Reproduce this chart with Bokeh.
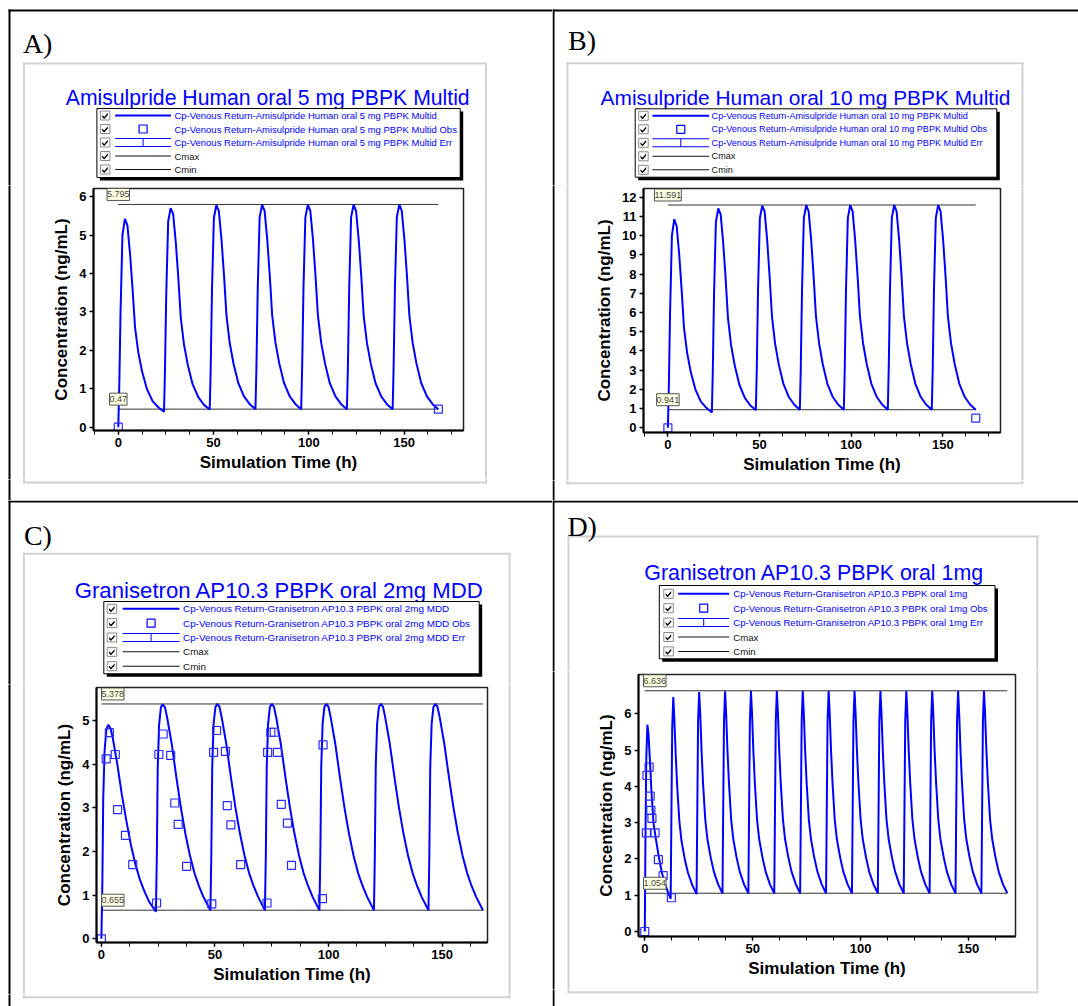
from bokeh.plotting import figure
from bokeh.layouts import row, column
from bokeh.models import Range1d, FixedTicker, Label
from bokeh.core.properties import value
from bokeh.embed import file_html
from bokeh.resources import INLINE

# ------------------------------------------------------------------ data
x_major_ticks = [0, 50, 100, 150]
x_minor_ticks = [-12.5, 0, 12.5, 25, 37.5, 50, 62.5, 75, 87.5, 100, 112.5, 125, 137.5, 150, 162.5, 175]
cmax_cmin_time = [0, 168]

amisulpride_time = [
    0, 0.5, 1.2, 2.2, 3.5, 4.8, 6.2, 7.5, 8.8, 10.5, 12.5, 15, 18, 21,
    24, 24.5, 25.2, 26.2, 27.5, 28.8, 30.2, 31.5, 32.8, 34.5, 36.5, 39, 42, 45,
    48, 48.5, 49.2, 50.2, 51.5, 52.8, 54.2, 55.5, 56.8, 58.5, 60.5, 63, 66, 69,
    72, 72.5, 73.2, 74.2, 75.5, 76.8, 78.2, 79.5, 80.8, 82.5, 84.5, 87, 90, 93,
    96, 96.5, 97.2, 98.2, 99.5, 100.8, 102.2, 103.5, 104.8, 106.5, 108.5, 111, 114, 117,
    120, 120.5, 121.2, 122.2, 123.5, 124.8, 126.2, 127.5, 128.8, 130.5, 132.5, 135, 138, 141,
    144, 144.5, 145.2, 146.2, 147.5, 148.8, 150.2, 151.5, 152.8, 154.5, 156.5, 159, 162, 165,
    168]
amisulpride_5mg_conc = [
    0, 1.0, 3.0, 5.0, 5.42, 5.25, 4.5, 3.6, 2.6, 1.95, 1.45, 1.0, 0.68, 0.52,
    0.40, 1.45, 3.5, 5.35, 5.70, 5.55, 4.8, 3.9, 2.85, 2.15, 1.62, 1.12, 0.78, 0.58,
    0.46, 1.5, 3.6, 5.45, 5.78, 5.62, 4.87, 3.95, 2.9, 2.19, 1.65, 1.15, 0.8, 0.6,
    0.47, 1.5, 3.6, 5.46, 5.79, 5.63, 4.88, 3.96, 2.9, 2.2, 1.66, 1.15, 0.8, 0.6,
    0.47, 1.5, 3.6, 5.46, 5.79, 5.63, 4.88, 3.96, 2.9, 2.2, 1.66, 1.15, 0.8, 0.6,
    0.47, 1.5, 3.6, 5.46, 5.79, 5.63, 4.88, 3.96, 2.9, 2.2, 1.66, 1.15, 0.8, 0.6,
    0.47, 1.5, 3.6, 5.46, 5.795, 5.63, 4.88, 3.96, 2.9, 2.2, 1.66, 1.15, 0.8, 0.6,
    0.47]
amisulpride_10mg_conc = [
    0, 2.0, 6.0, 10.0, 10.85, 10.5, 9.0, 7.2, 5.2, 3.9, 2.9, 2.0, 1.36, 1.04,
    0.80, 2.9, 7.0, 10.7, 11.42, 11.1, 9.6, 7.8, 5.7, 4.3, 3.24, 2.24, 1.56, 1.16,
    0.92, 3.0, 7.2, 10.9, 11.56, 11.25, 9.74, 7.9, 5.8, 4.38, 3.3, 2.3, 1.6, 1.2,
    0.94, 3.0, 7.2, 10.92, 11.58, 11.26, 9.76, 7.92, 5.8, 4.4, 3.32, 2.3, 1.6, 1.2,
    0.94, 3.0, 7.2, 10.92, 11.58, 11.26, 9.76, 7.92, 5.8, 4.4, 3.32, 2.3, 1.6, 1.2,
    0.94, 3.0, 7.2, 10.92, 11.59, 11.26, 9.76, 7.92, 5.8, 4.4, 3.32, 2.3, 1.6, 1.2,
    0.94, 3.0, 7.2, 10.92, 11.591, 11.26, 9.76, 7.92, 5.8, 4.4, 3.32, 2.3, 1.6, 1.2,
    0.94]
amisulpride_5mg_obs_time = [0, 168]
amisulpride_5mg_obs_conc = [0, 0.47]
amisulpride_10mg_obs_time = [0, 168]
amisulpride_10mg_obs_conc = [0, 0.5]
amisulpride_5mg_cmax, amisulpride_5mg_cmin = 5.795, 0.47
amisulpride_10mg_cmax, amisulpride_10mg_cmin = 11.591, 0.941

granisetron_2mg_time = [
    0, 0.4, 0.8, 1.4, 2.2, 3, 4, 5, 7, 9, 11, 13, 15, 17, 19, 21,
    24, 24.4, 24.8, 25.4, 26.2, 27, 28, 29, 31, 33, 35, 37, 39, 41, 43, 45,
    48, 48.4, 48.8, 49.4, 50.2, 51, 52, 53, 55, 57, 59, 61, 63, 65, 67, 69,
    72, 72.4, 72.8, 73.4, 74.2, 75, 76, 77, 79, 81, 83, 85, 87, 89, 91, 93,
    96, 96.4, 96.8, 97.4, 98.2, 99, 100, 101, 103, 105, 107, 109, 111, 113, 115, 117,
    120, 120.4, 120.8, 121.4, 122.2, 123, 124, 125, 127, 129, 131, 133, 135, 137, 139, 141,
    144, 144.4, 144.8, 145.4, 146.2, 147, 148, 149, 151, 153, 155, 157, 159, 161, 163, 165,
    168]
granisetron_2mg_conc = [
    0, 1.2, 3.2, 4.3, 4.8, 4.9, 4.82, 4.6, 4.0, 3.3, 2.7, 2.15, 1.7, 1.35, 1.08, 0.85,
    0.62, 1.9, 3.9, 4.9, 5.3, 5.37, 5.3, 5.05, 4.45, 3.7, 3.0, 2.4, 1.9, 1.5, 1.2, 0.95,
    0.65, 1.95, 3.95, 4.92, 5.31, 5.378, 5.31, 5.06, 4.46, 3.71, 3.01, 2.41, 1.91, 1.51, 1.21, 0.96,
    0.65, 1.95, 3.95, 4.92, 5.31, 5.378, 5.31, 5.06, 4.46, 3.71, 3.01, 2.41, 1.91, 1.51, 1.21, 0.96,
    0.65, 1.95, 3.95, 4.92, 5.31, 5.378, 5.31, 5.06, 4.46, 3.71, 3.01, 2.41, 1.91, 1.51, 1.21, 0.96,
    0.65, 1.95, 3.95, 4.92, 5.31, 5.378, 5.31, 5.06, 4.46, 3.71, 3.01, 2.41, 1.91, 1.51, 1.21, 0.96,
    0.65, 1.95, 3.95, 4.92, 5.31, 5.378, 5.31, 5.06, 4.46, 3.71, 3.01, 2.41, 1.91, 1.51, 1.21, 0.96,
    0.655]
granisetron_2mg_obs_time = [0, 2.1, 3.5, 6.1, 7.1, 10.6, 13.8,
                            24.3, 25.3, 27.2, 30.5, 32.3, 33.8, 37.5,
                            48.6, 49.4, 50.7, 54.6, 55.4, 57.0, 61.3,
                            72.9, 73.2, 74.6, 76.1, 77.5, 79.2, 81.9, 83.7,
                            97.3, 97.6]
granisetron_2mg_obs_conc = [0, 4.12, 4.72, 4.22, 2.96, 2.37, 1.70,
                            0.82, 4.22, 4.69, 4.20, 3.11, 2.62, 1.66,
                            0.80, 4.27, 4.77, 4.29, 3.05, 2.61, 1.70,
                            0.82, 4.27, 4.73, 4.73, 4.27, 3.08, 2.65, 1.68,
                            0.92, 4.44]
granisetron_2mg_cmax, granisetron_2mg_cmin = 5.378, 0.655

granisetron_1mg_time = [
    0, 0.3, 0.7, 1.2, 1.7, 2.3, 3, 4, 5, 6.5, 8, 10,
    12, 12.3, 12.7, 13.2, 13.7, 14.3, 15, 16, 17, 18.5, 20, 22,
    24, 24.3, 24.7, 25.2, 25.7, 26.3, 27, 28, 29, 30.5, 32, 34,
    36, 36.3, 36.7, 37.2, 37.7, 38.3, 39, 40, 41, 42.5, 44, 46,
    48, 48.3, 48.7, 49.2, 49.7, 50.3, 51, 52, 53, 54.5, 56, 58,
    60, 60.3, 60.7, 61.2, 61.7, 62.3, 63, 64, 65, 66.5, 68, 70,
    72, 72.3, 72.7, 73.2, 73.7, 74.3, 75, 76, 77, 78.5, 80, 82,
    84, 84.3, 84.7, 85.2, 85.7, 86.3, 87, 88, 89, 90.5, 92, 94,
    96, 96.3, 96.7, 97.2, 97.7, 98.3, 99, 100, 101, 102.5, 104, 106,
    108, 108.3, 108.7, 109.2, 109.7, 110.3, 111, 112, 113, 114.5, 116, 118,
    120, 120.3, 120.7, 121.2, 121.7, 122.3, 123, 124, 125, 126.5, 128, 130,
    132, 132.3, 132.7, 133.2, 133.7, 134.3, 135, 136, 137, 138.5, 140, 142,
    144, 144.3, 144.7, 145.2, 145.7, 146.3, 147, 148, 149, 150.5, 152, 154,
    156, 156.3, 156.7, 157.2, 157.7, 158.3, 159, 160, 161, 162.5, 164, 166,
    168]
granisetron_1mg_conc = [
    0, 2.5, 4.8, 5.7, 5.45, 4.8, 3.95, 3.0, 2.6, 2.05, 1.6, 1.2,
    0.9, 3.0, 5.6, 6.46, 5.85, 4.9, 4.02, 3.05, 2.5, 2.0, 1.62, 1.28,
    1.03, 3.1, 5.8, 6.6, 5.98, 4.98, 4.08, 3.1, 2.55, 2.05, 1.65, 1.3,
    1.05, 3.1, 5.8, 6.62, 6.0, 5.0, 4.1, 3.1, 2.55, 2.05, 1.65, 1.3,
    1.05, 3.1, 5.8, 6.63, 6.0, 5.0, 4.1, 3.1, 2.55, 2.05, 1.65, 1.3,
    1.05, 3.1, 5.8, 6.63, 6.0, 5.0, 4.1, 3.1, 2.55, 2.05, 1.65, 1.3,
    1.05, 3.1, 5.8, 6.63, 6.0, 5.0, 4.1, 3.1, 2.55, 2.05, 1.65, 1.3,
    1.05, 3.1, 5.8, 6.63, 6.0, 5.0, 4.1, 3.1, 2.55, 2.05, 1.65, 1.3,
    1.05, 3.1, 5.8, 6.63, 6.0, 5.0, 4.1, 3.1, 2.55, 2.05, 1.65, 1.3,
    1.05, 3.1, 5.8, 6.63, 6.0, 5.0, 4.1, 3.1, 2.55, 2.05, 1.65, 1.3,
    1.05, 3.1, 5.8, 6.63, 6.0, 5.0, 4.1, 3.1, 2.55, 2.05, 1.65, 1.3,
    1.05, 3.1, 5.8, 6.63, 6.0, 5.0, 4.1, 3.1, 2.55, 2.05, 1.65, 1.3,
    1.05, 3.1, 5.8, 6.63, 6.0, 5.0, 4.1, 3.1, 2.55, 2.05, 1.65, 1.3,
    1.05, 3.1, 5.8, 6.636, 6.0, 5.0, 4.1, 3.1, 2.55, 2.05, 1.65, 1.3,
    1.054]
granisetron_1mg_obs_time = [0, 0.75, 1.0, 2.0, 2.5, 2.8, 3.3, 4.75, 6.3, 8.5, 12.3]
granisetron_1mg_obs_conc = [0, 2.72, 4.30, 4.53, 3.73, 3.34, 3.12, 2.72, 1.98, 1.54, 0.93]
granisetron_1mg_cmax, granisetron_1mg_cmin = 6.636, 1.054

# ------------------------------------------------------------------ style / layout helpers
SANS = "Liberation Sans"
SERIF = "Liberation Serif"
BLUE = "#0000ff"
INK = "#111111"


def no_align(p):
    try:
        p.frame_align = False
    except Exception:
        pass
    return p


def deco_fig(x0, x1, y0, y1):
    """A blank strip of the cell; its ranges are the cell's pixel grid (y downward)."""
    p = figure(width=x1 - x0, height=y1 - y0, x_range=Range1d(x0, x1), y_range=Range1d(y1, y0),
               output_backend="svg", toolbar_location=None, title=None,
               x_axis_type=None, y_axis_type=None, min_border=0)
    p.outline_line_color = None
    p.background_fill_color = "white"
    p.border_fill_color = "white"
    return no_align(p)


def rect(p, l, t, r, b, fill=None, line=None, lw=1.0):
    kw = dict(left=[l], right=[r], top=[t], bottom=[b])
    kw.update(fill_color=fill, fill_alpha=1) if fill else kw.update(fill_alpha=0)
    kw.update(line_color=line, line_width=lw) if line else kw.update(line_alpha=0)
    p.quad(**kw)


def txt(p, x, y, s, size, color=INK, font=SANS, align="left", baseline="middle", style="normal"):
    p.text(x=[x], y=[y], text=[s], text_font=value(font), text_font_size=value(f"{size}px"),
           text_color=value(color), text_align=value(align), text_baseline=value(baseline),
           text_font_style=value(style))


def draw_frame_lines(p, cfg, y0, y1):
    """Cell rules and grey border, clipped by hand to this strip's rows y0..y1."""
    for (l, t, r, b) in cfg["rules"]:
        t2, b2 = max(t, y0 - 1), min(b, y1 + 1)
        if t2 < b2:
            rect(p, l, t2, r, b2, fill="black")
    gl, gt, gr, gb = cfg["gray"]
    for (l, t, r, b) in [(gl - 1, gt - 1, gr + 1, gt + 1), (gl - 1, gb - 1, gr + 1, gb + 1),
                         (gl - 1, gt - 1, gl + 1, gb + 1), (gr - 1, gt - 1, gr + 1, gb + 1)]:
        t2, b2 = max(t, y0 - 1), min(b, y1 + 1)
        if t2 < b2:
            rect(p, l, t2, r, b2, fill="#d2d2d2")


def draw_header(p, cfg):
    txt(p, cfg["letter_pos"][0], cfg["letter_pos"][1], cfg["letter"], 28, color="black",
        font=SERIF, baseline="alphabetic")
    txt(p, cfg["title_pos"][0], cfg["title_pos"][1], cfg["title"], cfg["title_fs"], color=BLUE,
        align="center", baseline="alphabetic")
    L = cfg["legend"]
    left, top, right, bottom = L["box"]
    rect(p, left + 3, top + 3, right + 3, bottom + 3, fill="black")
    rect(p, left, top, right, bottom, fill="white", line="black", lw=1)
    l0, l1 = L["line"]
    mid = (l0 + l1) / 2
    cb = L["cb"]
    for i, lab in enumerate(cfg["labels"]):
        yc = L["row0"] + i * L["dy"]
        rect(p, cb, yc - 4.5, cb + 9.5, yc + 4.5, fill="white", line="#8a8a8a", lw=1)
        p.patch([cb + 1.8, cb + 3.8, cb + 7.4, cb + 7.4, cb + 3.8, cb + 1.8],
                [yc - 0.6, yc + 1.4, yc - 2.7, yc - 0.5, yc + 3.4, yc + 1.4],
                fill_color="black", line_alpha=0)
        if i == 0:
            rect(p, l0, yc - 1, l1, yc + 1, fill=BLUE)
        elif i == 1:
            rect(p, mid - 4, yc - 4, mid + 4, yc + 4, line=BLUE, lw=1.2)
        elif i == 2:
            rect(p, l0, yc - 4.5, l1, yc - 3.5, fill=BLUE)
            rect(p, l0, yc + 3.5, l1, yc + 4.5, fill=BLUE)
            rect(p, mid - 0.5, yc - 4, mid + 0.5, yc + 4, fill=BLUE)
        else:
            rect(p, l0, yc - 0.5, l1, yc + 0.5, fill=INK)
        txt(p, L["text"], yc, lab, L["fs"], color=BLUE if i < 3 else INK)


def make_plot(cfg, t, c, ot, oc, cmax, cmin, yticks):
    L, R, Ht, Hb = cfg["split"]
    fl, fr, ft, fb = cfg["frame"]
    p = figure(width=R - L, height=Hb - Ht, x_range=Range1d(*cfg["xr"]), y_range=Range1d(*cfg["yr"]),
               output_backend="svg", toolbar_location=None, title=None,
               min_border_left=fl - L, min_border_right=R - fr, min_border_top=ft - Ht,
               min_border_bottom=Hb - fb)
    no_align(p)
    p.xgrid.visible = False
    p.ygrid.visible = False
    p.outline_line_color = "#222222"
    p.outline_line_width = 1.5
    p.border_fill_color = "white"
    p.background_fill_color = "white"
    p.xaxis.ticker = FixedTicker(ticks=x_major_ticks, minor_ticks=x_minor_ticks)
    p.yaxis.ticker = FixedTicker(ticks=yticks, minor_ticks=[])
    for ax in (p.xaxis[0], p.yaxis[0]):
        ax.axis_line_width = 2
        ax.axis_line_color = "black"
        ax.major_tick_line_width = 1.5
        ax.major_tick_line_color = "black"
        ax.minor_tick_line_color = "black"
        ax.major_tick_in = 0
        ax.major_tick_out = 4
        ax.minor_tick_in = 0
        ax.minor_tick_out = 4
        ax.major_label_standoff = 3
        ax.major_label_text_font = SANS
        ax.major_label_text_font_style = "bold"
        ax.major_label_text_font_size = "13px"
        ax.major_label_text_color = "black"
        ax.axis_label_text_font = SANS
        ax.axis_label_text_font_style = "bold"
        ax.axis_label_text_font_size = "17px"
        ax.axis_label_text_color = "black"
    p.xaxis.axis_label = "Simulation Time (h)"
    p.yaxis.axis_label = "Concentration (ng/mL)"
    p.xaxis.axis_label_standoff = 3
    p.yaxis.axis_label_standoff = 5

    p.line(cmax_cmin_time, [cmax, cmax], line_color="#333333", line_width=1)
    p.line(cmax_cmin_time, [cmin, cmin], line_color="#333333", line_width=1)
    p.line(t, c, line_color=BLUE, line_width=2)
    p.scatter(ot, oc, marker="square", size=8, fill_alpha=0, line_color="#2a2aff", line_width=1.2)
    for v in (cmax, cmin):
        if cfg["tag_left"]:
            pos = dict(x=cfg["xr"][0], x_offset=5, text_align="left")
        else:
            pos = dict(x=0, x_offset=0, text_align="center")
        p.add_layout(Label(y=v, x_units="data", y_units="data", y_offset=10,
                           text=f"{v:g}", text_baseline="middle",
                           text_font=SANS, text_font_size="9px", text_color="#444444",
                           background_fill_color="#ffffe1", border_line_color="#555555",
                           padding=(0, 3), **pos))
    return p


def build_cell(cfg, t, c, ot, oc, cmax, cmin, yticks):
    W, H = cfg["size"]
    L, R, Ht, Hb = cfg["split"]
    header = deco_fig(0, W, 0, Ht)
    draw_frame_lines(header, cfg, 0, Ht)
    draw_header(header, cfg)
    left = deco_fig(0, L, Ht, Hb)
    draw_frame_lines(left, cfg, Ht, Hb)
    right = deco_fig(R, W, Ht, Hb)
    draw_frame_lines(right, cfg, Ht, Hb)
    bottom = deco_fig(0, W, Hb, H)
    draw_frame_lines(bottom, cfg, Hb, H)
    plot = make_plot(cfg, t, c, ot, oc, cmax, cmin, yticks)
    return column(header, row(left, plot, right, spacing=0), bottom, spacing=0)


def labels_for(name):
    return [f"Cp-Venous Return-{name}", f"Cp-Venous Return-{name} Obs",
            f"Cp-Venous Return-{name} Err", "Cmax", "Cmin"]


cfgA = dict(size=(552, 500), split=(40, 466, 185, 479), frame=(93, 463, 188, 430),
            xr=(-13.0, 181.2), yr=(-0.086, 6.21), tag_left=False,
            rules=[(8, 9, 552, 11), (8, 9, 10, 500)], gray=(23.5, 63, 485.5, 482),
            letter="A)", letter_pos=(22.4, 42.5),
            title="Amisulpride Human oral 5 mg PBPK Multid", title_pos=(267.2, 96.7), title_fs=21.2,
            legend=dict(box=(96.4, 108, 459.7, 177), row0=115, dy=13.5, cb=99.9,
                        line=(114.7, 170.5), text=173.9, fs=9.5),
            labels=labels_for("Amisulpride Human oral 5 mg PBPK Multid"))
cfgB = dict(size=(526, 500), split=(40, 451, 185, 480), frame=(91, 448, 188, 432),
            xr=(-13.3, 181.5), yr=(-0.245, 12.45), tag_left=False,
            rules=[(0, 9, 526, 11), (0, 9, 2, 500)], gray=(14.9, 62.7, 470, 482.7),
            letter="B)", letter_pos=(15.5, 39.5),
            title="Amisulpride Human oral 10 mg PBPK Multid", title_pos=(253, 96.7), title_fs=20.9,
            legend=dict(box=(82.7, 108.3, 444.3, 176.7), row0=115.3, dy=13.5, cb=86.2,
                        line=(99.9, 156.7), text=159.1, fs=9.1),
            labels=labels_for("Amisulpride Human oral 10 mg PBPK Multid"))
cfgC = dict(size=(552, 506), split=(40, 490, 184, 494), frame=(96, 487, 187, 442),
            xr=(-2.16, 170.0), yr=(-0.085, 5.755), tag_left=True,
            rules=[(8, 0, 552, 2), (8, 0, 10, 506)], gray=(23.4, 53.3, 509, 496.7),
            letter="C)", letter_pos=(23.4, 35),
            title="Granisetron AP10.3 PBPK oral 2mg MDD", title_pos=(278.9, 90), title_fs=22.2,
            legend=dict(box=(103.3, 101, 478.7, 173.3), row0=108.3, dy=14.35, cb=106.7,
                        line=(122.2, 179), text=182.5, fs=9.9),
            labels=labels_for("Granisetron AP10.3 PBPK oral 2mg MDD"))
cfgD = dict(size=(526, 506), split=(40, 466, 171, 489), frame=(86, 463, 174, 436),
            xr=(-2.92, 171.8), yr=(-0.138, 7.084), tag_left=True,
            rules=[(0, 0, 526, 2), (0, 0, 2, 506)], gray=(16, 36, 484.9, 491.7),
            letter="D)", letter_pos=(14.9, 26),
            title="Granisetron AP10.3 PBPK oral 1mg", title_pos=(261.8, 72.7), title_fs=21.4,
            legend=dict(box=(106.8, 85, 442.5, 158.3), row0=93.3, dy=14.4, cb=111.3,
                        line=(125.7, 176.7), text=180.8, fs=9.6),
            labels=labels_for("Granisetron AP10.3 PBPK oral 1mg"))

cellA = build_cell(cfgA, amisulpride_time, amisulpride_5mg_conc, amisulpride_5mg_obs_time,
                   amisulpride_5mg_obs_conc, amisulpride_5mg_cmax, amisulpride_5mg_cmin, list(range(0, 7)))
cellB = build_cell(cfgB, amisulpride_time, amisulpride_10mg_conc, amisulpride_10mg_obs_time,
                   amisulpride_10mg_obs_conc, amisulpride_10mg_cmax, amisulpride_10mg_cmin, list(range(0, 13)))
cellC = build_cell(cfgC, granisetron_2mg_time, granisetron_2mg_conc, granisetron_2mg_obs_time,
                   granisetron_2mg_obs_conc, granisetron_2mg_cmax, granisetron_2mg_cmin, list(range(0, 6)))
cellD = build_cell(cfgD, granisetron_1mg_time, granisetron_1mg_conc, granisetron_1mg_obs_time,
                   granisetron_1mg_obs_conc, granisetron_1mg_cmax, granisetron_1mg_cmin, list(range(0, 7)))

layout = column(row(cellA, cellB, spacing=0), row(cellC, cellD, spacing=0), spacing=0)
open("out.html", "w").write(file_html(layout, INLINE))
